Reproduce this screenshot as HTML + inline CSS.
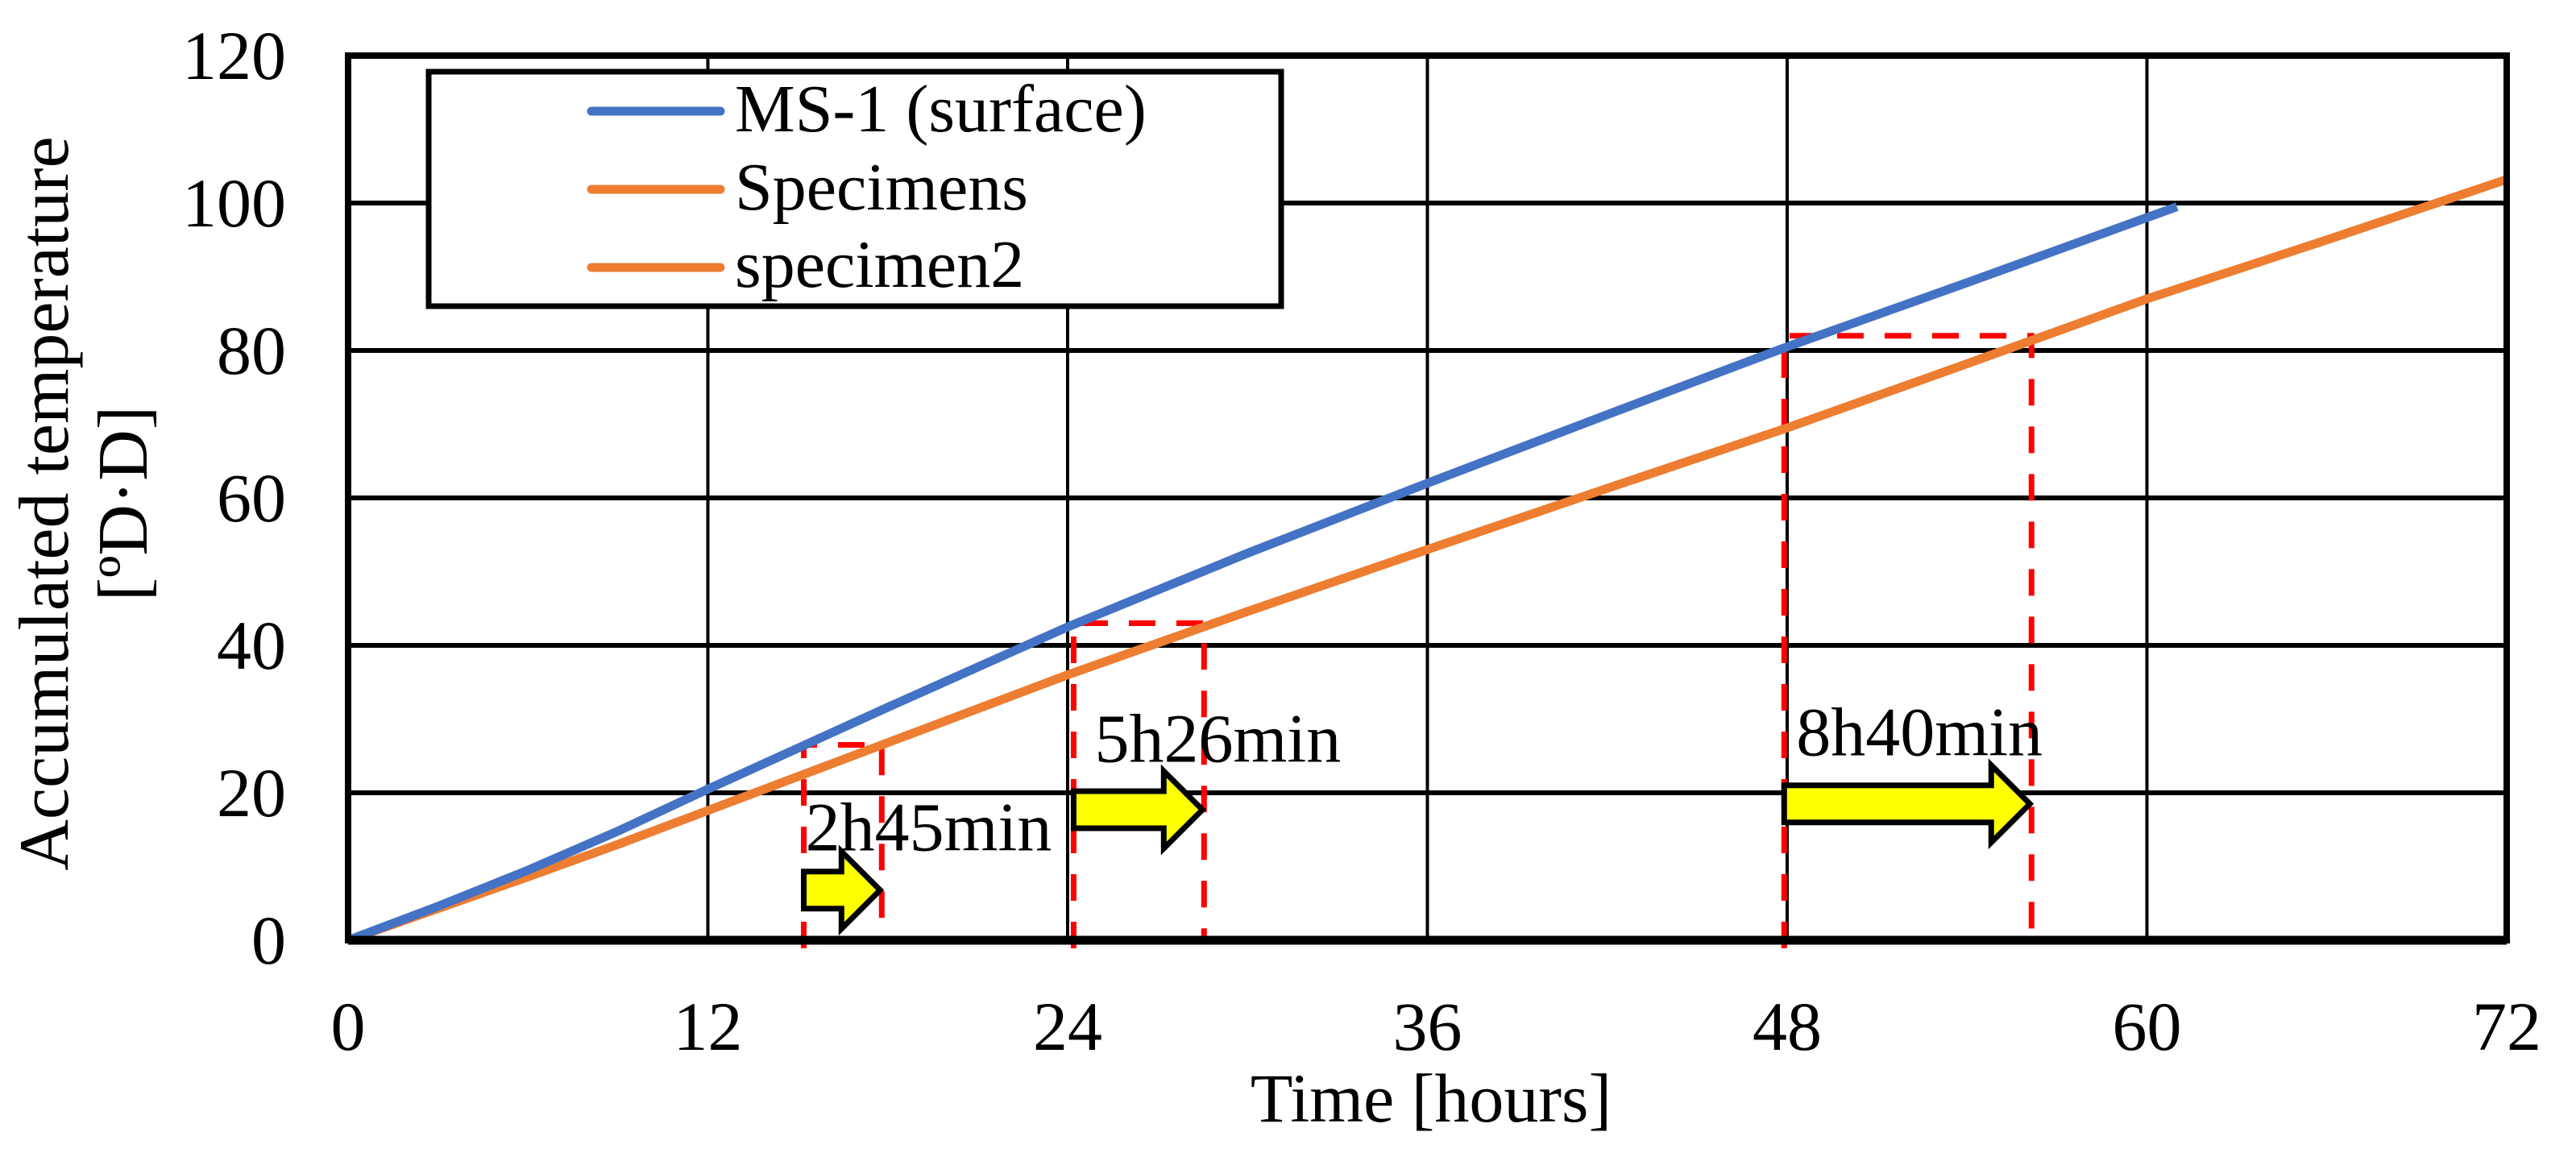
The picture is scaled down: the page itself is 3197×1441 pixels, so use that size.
<!DOCTYPE html>
<html><head><meta charset="utf-8"><style>
html,body{margin:0;padding:0;background:#fff;}
svg{display:block;font-family:"Liberation Serif",serif;}
</style></head><body>
<svg id="chart" width="3197" height="1441" viewBox="0 0 3197 1441" xmlns="http://www.w3.org/2000/svg">
<rect width="3197" height="1441" fill="#fff"/>
<g id="grid"></g>
<g id="annot"></g>
<g id="series"></g>
<g id="axes"></g>
<g id="legend">
  <rect x="532" y="89" width="1058" height="291" fill="#fff" stroke="#000" stroke-width="7"/>
  <line x1="734" y1="138" x2="894" y2="138" stroke="#4472c4" stroke-width="11" stroke-linecap="round"/>
  <text x="912" y="163" font-size="84">MS-1 (surface)</text>
  <line x1="734" y1="235" x2="894" y2="235" stroke="#ed7d31" stroke-width="11" stroke-linecap="round"/>
  <text x="912" y="260" font-size="84">Specimens</text>
  <line x1="734" y1="332" x2="894" y2="332" stroke="#ed7d31" stroke-width="11" stroke-linecap="round"/>
  <text x="912" y="356" font-size="84">specimen2</text>
</g>
<text x="1776" y="1392" font-size="86" text-anchor="middle">Time [hours]</text>
<g transform="translate(0,625) rotate(-90)">
  <text x="0" y="84" font-size="88" text-anchor="middle">Accumulated temperature</text>
  <text x="0" y="182" font-size="88" text-anchor="middle">[ºD·D]</text>
</g>
</svg>
<script>
const xTicks = [0, 12, 24, 36, 48, 60, 72];
const yTicks = [0, 20, 40, 60, 80, 100, 120];
const msHours = [0, 3, 6, 9, 12, 18, 24, 30, 36, 42, 48, 54, 61];
const msValues = [0, 4.6, 9.5, 14.8, 20.5, 31.6, 42.5, 52.5, 62, 71.3, 80.5, 89.2, 99.5];
const spHours = [0, 3, 6, 9, 12, 18, 24, 30, 36, 42, 48, 54, 60, 66, 72];
const spValues = [0, 4.3, 8.6, 13, 17.6, 26.8, 36, 44.6, 53, 61.3, 69.5, 78.2, 87, 95, 103.2];
const boxStart = [15.2, 24.2, 47.9];
const boxEnd = [17.8, 28.55, 56.15];
const boxTop = [26.5, 43, 82];
const arrowY = [6.8, 17.7, 18.5];
const boxLabels = ["2h45min", "5h26min", "8h40min"];
const labelY = [12.2, 24.2, 25.1];

const X0 = 432, X1 = 3111, Y0 = 1167, Y1 = 69;
const sx = h => X0 + h / 72 * (X1 - X0);
const sy = v => Y0 - v / 120 * (Y0 - Y1);
const NS = "http://www.w3.org/2000/svg";
function mk(tag, attrs, parent) {
  const e = document.createElementNS(NS, tag);
  for (const k in attrs) e.setAttribute(k, attrs[k]);
  parent.appendChild(e);
  return e;
}
const grid = document.getElementById('grid');
const axes = document.getElementById('axes');
const annot = document.getElementById('annot');
const series = document.getElementById('series');

xTicks.forEach(t => {
  if (t > 0 && t < 72) {
    const g = mk('line', {x1: sx(t), x2: sx(t), y1: Y1, y2: Y0, stroke: '#000', 'stroke-width': 4}, grid);
    
    
  }
  const tx = mk('text', {x: sx(t), y: Y0 + 136, 'font-size': 86, 'text-anchor': 'middle'}, axes);
  tx.textContent = t;
  
  
});
yTicks.forEach(t => {
  if (t > 0 && t < 120) {
    const g = mk('line', {x1: X0, x2: X1, y1: sy(t), y2: sy(t), stroke: '#000', 'stroke-width': 6}, grid);
    
    
  }
  const tx = mk('text', {x: X0 - 77, y: sy(t) + 29, 'font-size': 86, 'text-anchor': 'end'}, axes);
  tx.textContent = t;
  
  
});
const frame = mk('rect', {x: X0, y: Y1, width: X1 - X0, height: Y0 - Y1, fill: 'none', stroke: '#000', 'stroke-width': 8}, axes);


const xb = mk('line', {x1: X0, x2: X1, y1: Y0, y2: Y0, stroke: '#000', 'stroke-width': 11}, axes);



boxStart.forEach((s, i) => {
  const x1 = sx(s), x2 = sx(boxEnd[i]), yt = sy(boxTop[i]);
  const p = mk('path', {d: `M${x1},${Y0 + 10} L${x1},${yt} L${x2},${yt} L${x2},${Y0}`, fill: 'none', stroke: '#ff0000', 'stroke-width': 7, 'stroke-dasharray': '33,26'}, annot);
  
  
  const ay = sy(arrowY[i]), half = 23, headH = 48, headL = 48;
  const tip = x2 - 2;
  const hx = tip - headL;
  const a = mk('polygon', {points: `${x1},${ay - half} ${hx},${ay - half} ${hx},${ay - headH} ${tip},${ay} ${hx},${ay + headH} ${hx},${ay + half} ${x1},${ay + half}`, fill: '#ffff00', stroke: '#000', 'stroke-width': 7}, annot);
  
  
  const lt = mk('text', {x: x1 + (i === 0 ? 2 : (i === 1 ? 26 : 15)), y: sy(labelY[i]), 'font-size': 86}, annot);
  lt.textContent = boxLabels[i];
  
  
});

function line(hs, vs, color, name) {
  const d = hs.map((h, i) => (i ? 'L' : 'M') + sx(h) + ',' + sy(vs[i])).join(' ');
  const p = mk('path', {d: d, fill: 'none', stroke: color, 'stroke-width': 11, 'stroke-linejoin': 'round'}, series);
  
  
}
line(spHours, spValues, '#ed7d31', 'series-specimens');
line(msHours, msValues, '#4472c4', 'series-ms1-surface');
</script>
</body></html>
